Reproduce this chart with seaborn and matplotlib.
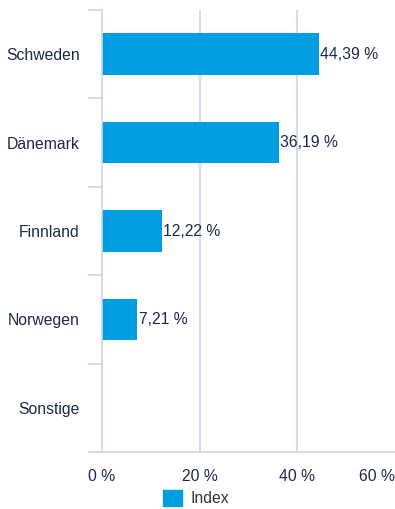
import matplotlib
matplotlib.use("Agg")
import matplotlib.pyplot as plt
from matplotlib.patches import Patch
from matplotlib.ticker import FixedLocator
import seaborn as sns
import pandas as pd

# Regional weights of the index
countries = ["Schweden", "Dänemark", "Finnland", "Norwegen", "Sonstige"]
weights = [44.39, 36.19, 12.22, 7.21, 0.0]
x_ticks = [0, 20, 40, 60]
x_tick_labels = ["0 %", "20 %", "40 %", "60 %"]
series_name = "Index"

BAR = "#009ee0"
TEXT = "#1c2a4a"
GRID = "#ccd6eb"
FS = 11.3

sns.set_theme(style="white")
plt.rcParams["font.family"] = ["Liberation Sans", "DejaVu Sans"]

df = pd.DataFrame({"Land": countries, "Gewicht": weights})

fig = plt.figure(figsize=(3.95, 5.09), dpi=100)
ax = fig.add_axes([102 / 395, 1 - 452 / 509, 1 - 102 / 395, (452 - 10) / 509])

sns.barplot(data=df, y="Land", x="Gewicht", orient="h", color=BAR,
            width=0.47, saturation=1, linewidth=0, ax=ax, zorder=3)

ax.set_xlim(0, 60)
ax.set_ylim(4.5, -0.5)
ax.set_xlabel("")
ax.set_ylabel("")

ax.set_xticks(x_ticks)
ax.set_xticklabels(x_tick_labels)
# Interior gridlines only; the plot edge at 60 % stays open
for t in x_ticks[1:-1]:
    ax.axvline(t, color=GRID, linewidth=1.2, zorder=0)
ax.tick_params(axis="x", length=0, pad=12, labelsize=FS, labelcolor=TEXT)
ax.get_xticklabels()[-1].set_horizontalalignment("right")

ax.tick_params(axis="y", which="major", length=0, pad=16, labelsize=FS,
               labelcolor=TEXT)
ax.yaxis.set_minor_locator(FixedLocator([i - 0.5 for i in range(len(countries) + 1)]))
ax.tick_params(axis="y", which="minor", left=True, length=10, width=1.2,
               color=GRID)

for side in ["top", "right"]:
    ax.spines[side].set_visible(False)
ax.spines["left"].set_color(GRID)
ax.spines["left"].set_linewidth(1.2)
ax.spines["left"].set_zorder(5)
ax.spines["bottom"].set_color(GRID)
ax.spines["bottom"].set_linewidth(1.2)
ax.spines["bottom"].set_bounds(-2.2, 60)
ax.spines["bottom"].set_clip_on(False)

for i, v in enumerate(weights):
    if v > 0:
        ax.text(v + 0.3, i, f"{v:.2f} %".replace(".", ","), va="center",
                ha="left", fontsize=FS, color=TEXT, zorder=4)

handles = [Patch(facecolor=BAR, edgecolor=BAR, label=series_name)]
fig.legend(handles=handles, loc="center", bbox_to_anchor=(196 / 395, 1 - 498 / 509),
           frameon=False, fontsize=FS, handlelength=1.2, handleheight=1.2,
           handletextpad=0.5, labelcolor="#333333", borderpad=0)

fig.savefig("out.png", dpi=100)
